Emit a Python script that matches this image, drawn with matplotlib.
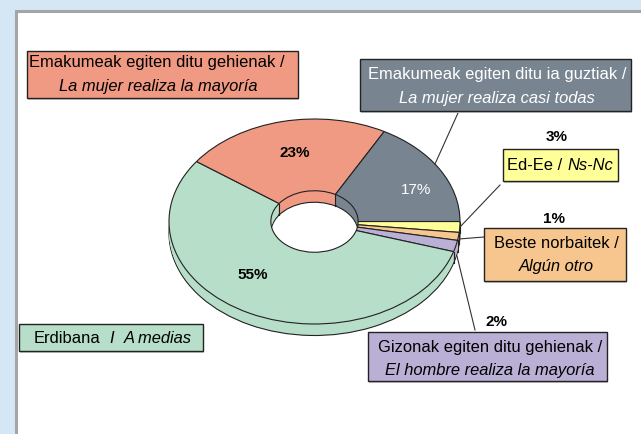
"""Share of household tasks: 3D-look donut with callout boxes."""
from matplotlib import pyplot as plt
from matplotlib.patches import Rectangle
import numpy as np

WIDTH, HEIGHT = 641, 435

# slice sizes, clockwise from 3 o'clock
slices = ['yellow', 'orange', 'purple', 'green', 'salmon', 'gray']
sizes = [1.7, 1.25, 1.8, 55.2, 23.0, 17.05]
slice_colors = ['#FFFF99', '#F6C68E', '#BAB0D6', '#B6DEC8', '#F09A84', '#788591']

# pie geometry in pixels
CX, CY, RX, RY, DEPTH = 314.5, 222.5, 145.5, 102.5, 11.5
HOLE = 0.3
FONT = ['Liberation Sans']
FS = 11.9
FS_PCT = 11.0


def draw_pie(fig):
    """Draw the donut on its own axes, stretched so a unit circle is an ellipse."""
    margin = 1.2
    ax = fig.add_axes([(CX - margin * RX) / WIDTH,
                       1 - (CY + margin * RY) / HEIGHT,
                       2 * margin * RX / WIDTH,
                       2 * margin * RY / HEIGHT])
    drop = DEPTH / RY
    # bottom face first, with outline
    ax.pie(sizes, colors=slice_colors, startangle=0, counterclock=False,
           center=(0, -drop), radius=1,
           wedgeprops=dict(width=1 - HOLE, edgecolor='#222222', linewidth=0.8))
    # side walls, no outline
    for step in range(int(DEPTH) - 1, 0, -1):
        ax.pie(sizes, colors=slice_colors, startangle=0, counterclock=False,
               center=(0, -step / RY), radius=1,
               wedgeprops=dict(width=1 - HOLE, linewidth=0))
    # top face
    wedges, _ = ax.pie(sizes, colors=slice_colors, startangle=0,
                       counterclock=False, radius=1,
                       wedgeprops=dict(width=1 - HOLE, edgecolor='#222222',
                                       linewidth=0.8))
    # vertical edges where two slices meet on a visible wall
    for wedge in wedges:
        ang = np.radians(wedge.theta1)
        rad = 1 if np.sin(ang) < 0 else HOLE
        xpos = rad * np.cos(ang)
        ypos = rad * np.sin(ang)
        ax.plot([xpos, xpos], [ypos, ypos - drop], color='#222222', lw=0.8,
                zorder=5)
    ax.set_aspect('auto')
    ax.set_xlim(-margin, margin)
    ax.set_ylim(-margin, margin)
    ax.axis('off')


def draw_box(ax, box, color):
    """Draw a callout box with a faint shadow."""
    x0, y0, x1, y1 = box
    ax.add_patch(Rectangle((x0 + 1, y0 + 1.5), x1 - x0, y1 - y0,
                           facecolor='#C8C8C8', edgecolor='none', zorder=2))
    ax.add_patch(Rectangle((x0, y0), x1 - x0, y1 - y0, facecolor=color,
                           edgecolor='#222222', linewidth=1.0, zorder=3))


def say(ax, xpos, ypos, text, color='black', style='normal', weight='normal',
        size=FS):
    """Put one centred line of text at pixel position."""
    ax.text(xpos, ypos, text, color=color, style=style, weight=weight,
            family=FONT, fontsize=size, ha='center', va='center', zorder=6)


def main():
    """Build the figure."""
    fig = plt.figure(figsize=(WIDTH / 100, HEIGHT / 100), dpi=100)
    fig.patch.set_facecolor('#D5E7F4')

    back = fig.add_axes([0, 0, 1, 1])
    back.set_xlim(0, WIDTH)
    back.set_ylim(HEIGHT, 0)
    back.axis('off')
    back.add_patch(Rectangle((15.5, 11.5), WIDTH, HEIGHT, facecolor='white',
                             edgecolor='#A5A5A5', linewidth=2.2))

    draw_pie(fig)

    ax = fig.add_axes([0, 0, 1, 1])
    ax.set_xlim(0, WIDTH)
    ax.set_ylim(HEIGHT, 0)
    ax.axis('off')
    ax.patch.set_alpha(0)

    # leader lines
    ax.plot([458, 435], [114, 165], color='#333333', lw=0.8)
    ax.plot([500, 460], [186, 228], color='#333333', lw=0.8)
    ax.plot([484, 459], [238, 240], color='#333333', lw=0.8)
    ax.plot([457, 475], [257, 331], color='#333333', lw=0.8)

    draw_box(ax, (27, 52, 298, 99), slice_colors[4])
    say(ax, 157, 63, 'Emakumeak egiten ditu gehienak /')
    say(ax, 158, 86, 'La mujer realiza la mayoría', style='italic')

    draw_box(ax, (360, 60, 631, 112), slice_colors[5])
    say(ax, 497, 74, 'Emakumeak egiten ditu ia guztiak /', color='white')
    say(ax, 497, 98, 'La mujer realiza casi todas', color='white',
        style='italic')

    draw_box(ax, (503, 150, 618, 182), slice_colors[0])
    say(ax, 535, 165.5, 'Ed-Ee /')
    say(ax, 590, 165.5, 'Ns-Nc', style='italic')

    draw_box(ax, (484, 229, 626, 282), slice_colors[1])
    say(ax, 556, 244, 'Beste norbaitek /')
    say(ax, 556, 267, 'Algún otro', style='italic')

    draw_box(ax, (368, 333, 607, 382), slice_colors[2])
    say(ax, 490, 348, 'Gizonak egiten ditu gehienak /')
    say(ax, 490, 371, 'El hombre realiza la mayoría', style='italic')

    draw_box(ax, (19, 325, 203, 352), slice_colors[3])
    say(ax, 67, 339, 'Erdibana')
    say(ax, 112, 339, 'I', style='italic')
    say(ax, 158, 339, 'A medias', style='italic')

    # percentage labels
    say(ax, 295, 153, '23%', weight='bold', size=FS_PCT)
    say(ax, 416, 190, '17%', color='white', size=FS_PCT)
    say(ax, 253, 275, '55%', weight='bold', size=FS_PCT)
    say(ax, 557, 137, '3%', weight='bold', size=FS_PCT)
    say(ax, 554, 219, '1%', weight='bold', size=FS_PCT)
    say(ax, 496, 322, '2%', weight='bold', size=FS_PCT)

    fig.savefig('out.png', dpi=100, facecolor=fig.get_facecolor())
    plt.close(fig)


if __name__ == '__main__':
    main()
